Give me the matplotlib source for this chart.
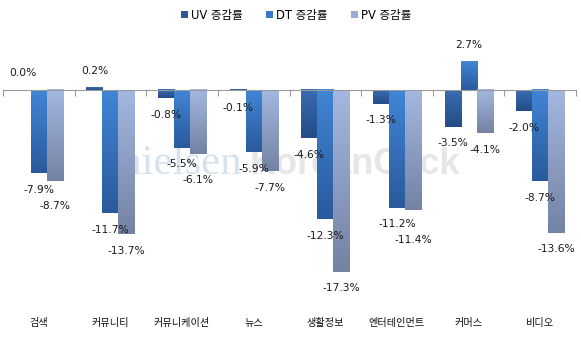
import numpy as np
import matplotlib.pyplot as plt
from matplotlib.patches import Patch
from matplotlib.colors import LinearSegmentedColormap

categories = ["검색", "커뮤니티", "커뮤니케이션", "뉴스", "생활정보", "엔터테인먼트", "커머스", "비디오"]
series_names = ["UV 증감률", "DT 증감률", "PV 증감률"]
uv = [0.0, 0.2, -0.8, -0.1, -4.6, -1.3, -3.5, -2.0]
dt = [-7.9, -11.7, -5.5, -5.9, -12.3, -11.2, 2.7, -8.7]
pv = [-8.7, -13.7, -6.1, -7.7, -17.3, -11.4, -4.1, -13.6]

# (top colour, bottom colour) of each series' gradient
gradients = [("#3a6cb0", "#244c86"), ("#4185d6", "#2a5a9c"), ("#a3b7e0", "#7483a4")]
legend_colors = ["#2c5a98", "#3b78c6", "#9aabd4"]

fonts = ["DejaVu Sans", "Noto Sans CJK KR"]
plt.rcParams["font.family"] = fonts

fig = plt.figure(figsize=(5.81, 3.37), dpi=100)
ax = fig.add_axes([0.0052, 0.1098, 0.9862, 0.7789])
ax.set_xlim(0, len(categories))
ax.set_ylim(-20, 5)

# watermark behind the bars
ax.text(0.205, 0.48, "nielsen", transform=ax.transAxes, family="Liberation Serif",
        fontsize=31, color="#d6e2ee", va="baseline", ha="left", zorder=0)
ax.text(0.43, 0.48, "KoreanClick", transform=ax.transAxes, family="Liberation Sans",
        fontweight="bold", fontsize=26, color="#e6e6e6", va="baseline", ha="left", zorder=0)

width = 0.2235
offsets = [-width, 0.0, width]
x = np.arange(len(categories)) + 0.5

# points per data unit, used to keep neighbouring labels apart
pt_per_unit = (ax.transData.transform((0, 1))[1] - ax.transData.transform((0, 0))[1]) * 72 / fig.dpi
base_off = 12.0


def label_offset(v):
    return base_off if v >= 0 else -base_off


for k, vals in enumerate([uv, dt, pv]):
    cmap = LinearSegmentedColormap.from_list("g%d" % k, [gradients[k][1], gradients[k][0]])
    grad = np.linspace(1, 0, 64).reshape(-1, 1)
    for i, (xi, v) in enumerate(zip(x + offsets[k], vals)):
        lo, hi = min(0, v), max(0, v)
        if hi - lo > 0:
            ax.imshow(grad, cmap=cmap, aspect="auto", interpolation="bilinear",
                      extent=[xi - width / 2, xi + width / 2, lo, hi], zorder=2)
        off = label_offset(v)
        if k == 2 and v < 0 and dt[i] < 0:
            # push the PV label below the DT label when they would collide
            dt_pos = dt[i] * pt_per_unit + label_offset(dt[i])
            pv_pos = v * pt_per_unit + off
            if dt_pos - pv_pos < 9:
                off = dt_pos + (-11.5) - v * pt_per_unit
        ax.annotate("%.1f%%" % v, (xi, v), xytext=(0, off), textcoords="offset points",
                    ha="center", va="center", fontsize=7.7, color="#1a1a1a", zorder=3)

ax.set_xlim(0, len(categories))
ax.set_ylim(-20, 5)

for s in ["top", "right", "left"]:
    ax.spines[s].set_visible(False)
ax.spines["bottom"].set_position(("data", 0))
ax.spines["bottom"].set_color("#9a9a9a")
ax.spines["bottom"].set_zorder(4)
ax.set_xticks(np.arange(len(categories) + 1))
ax.set_xticklabels([])
ax.tick_params(axis="x", direction="out", length=4, color="#9a9a9a")
ax.set_yticks([])

for xi, name in zip(x, categories):
    ax.text(xi, -0.088, name, transform=ax.get_xaxis_transform(), ha="center", va="center",
            fontsize=7.3, color="#111111")

handles = [Patch(facecolor=c, edgecolor="none") for c in legend_colors]
fig.legend(handles, series_names, loc="center", bbox_to_anchor=(0.51, 0.955), ncol=3,
           frameon=False, fontsize=8.3, handlelength=0.6, handleheight=0.6,
           handletextpad=0.3, columnspacing=2.0)

fig.savefig("out.png", dpi=100)
